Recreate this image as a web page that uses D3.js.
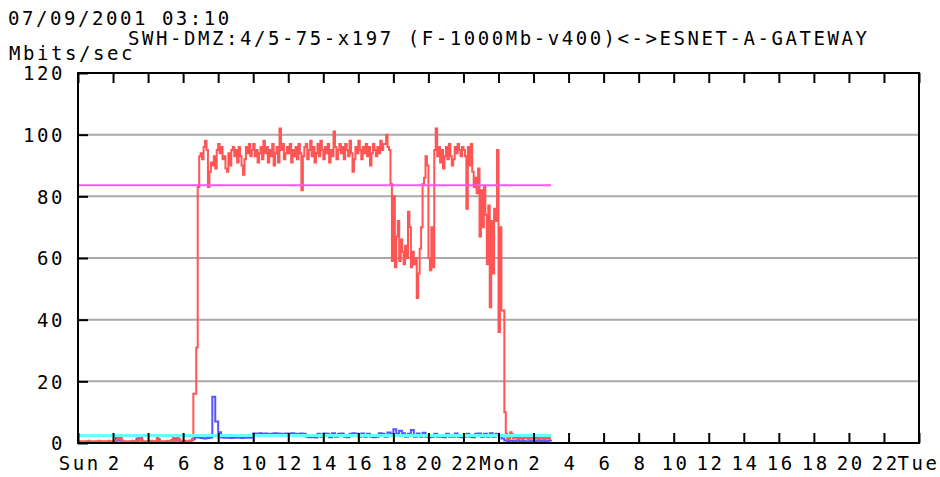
<!DOCTYPE html>
<html>
<head>
<meta charset="utf-8">
<script src="https://cdn.jsdelivr.net/npm/d3@7"></script>
<style>
body { margin: 0; background: #fff; }
svg text { font-family: "DejaVu Sans Mono", monospace; font-size: 19px; letter-spacing: 2.55px; fill: #000; }
</style>
</head>
<body>
<svg id="chart" width="940" height="477"></svg>
<script>
// header text
var stamp = "07/09/2001 03:10";
var linkName = "SWH-DMZ:4/5-75-x197 (F-1000Mb-v400)<->ESNET-A-GATEWAY";
var unitLabel = "Mbits/sec";

// axis stuff
var dayNames = ["Sun", "Mon", "Tue"];
var hourTicks = d3.range(0, 49, 2);
var yTicks = [0, 20, 40, 60, 80, 100, 120];

// outbound traffic (red), 5 min samples from Sun 00:00, one row per hour
var outStep = 5;
var outTraffic = [
	0.6, 0.6, 0.6, 0.5, 0.5, 0.6, 0.6, 0.7, 0.6, 0.5, 0.5, 0.6,
	0.6, 0.6, 0.7, 0.6, 0.6, 0.5, 0.6, 0.6, 0.6, 0.7, 0.6, 0.6,
	0.6, 0.5, 0.6, 2.2, 1.4, 1.6, 0.7, 0.6, 0.6, 0.5, 0.6, 0.6,
	0.6, 0.7, 0.6, 0.5, 0.6, 2.0, 0.8, 1.6, 0.6, 0.6, 0.5, 0.6,
	0.6, 0.6, 0.7, 0.6, 0.6, 0.5, 2.1, 0.6, 0.6, 0.6, 0.5, 0.6,
	0.6, 0.7, 0.6, 0.6, 0.6, 2.0, 0.7, 0.6, 2.3, 1.2, 0.6, 0.6,
	0.6, 0.7, 0.6, 0.6, 0.7, 0.8, 0.9, 16, 16, 31, 83, 93,
	94, 92, 96, 98, 95, 83, 88, 91, 90, 93, 89, 95,
	97, 94, 96, 92, 93, 89, 88, 94, 90, 95, 96, 93,
	95, 91, 96, 93, 90, 87, 92, 96, 94, 97, 93, 95,
	97, 93, 95, 91, 94, 96, 92, 98, 94, 96, 91, 95,
	93, 97, 90, 94, 96, 91, 102, 95, 97, 92, 94, 96,
	94, 97, 91, 95, 93, 96, 92, 97, 94, 82, 93, 96,
	97, 92, 95, 98, 93, 96, 91, 94, 97, 93, 98, 95,
	92, 96, 94, 97, 91, 95, 93, 101, 96, 92, 95, 97,
	94, 96, 92, 97, 95, 93, 98, 94, 88, 92, 96, 94,
	98, 95, 92, 96, 94, 97, 93, 96, 90, 94, 97, 95,
	93, 96, 94, 98, 95, 97, 97, 100, 96, 95, 84, 59,
	80, 57, 67, 72, 59, 66, 62, 58, 64, 60, 75, 70,
	57, 62, 58, 60, 47, 55, 63, 70, 84, 86, 93, 90,
	60, 56, 70, 57, 95, 102, 93, 96, 91, 95, 89, 93,
	96, 92, 97, 93, 90, 92, 96, 94, 97, 95, 93, 96,
	95, 93, 76, 96, 90, 97, 88, 83, 86, 81, 89, 67,
	82, 70, 83, 74, 58, 77, 44, 72, 55, 76, 72, 95,
	36, 70, 43, 43, 10, 3, 1.2, 1.5, 3.5, 2.8, 1.5, 2.5,
	1.8, 1.2, 2.0, 1.5, 1.2, 2.4, 1.6, 2.2, 1.3, 1.8, 1.5, 2.0,
	1.4, 2.2, 1.6, 1.3, 2.0, 1.5, 1.8, 1.2, 2.1, 1.5, 1.7, 1.4
];

// inbound traffic (blue), 10 min samples
var inStep = 10;
var inTraffic = [
	0.3, 0.3, 0.3, 0.3, 0.3, 0.3, 0.3, 0.3, 0.3, 0.3, 0.3, 0.3, 0.3, 1.6, 0.8, 0.3,
	0.3, 0.3, 0.3, 0.3, 1.4, 0.9, 0.3, 0.3, 0.3, 0.3, 0.3, 1.2, 0.3, 0.3, 0.3, 0.3,
	1.0, 1.5, 0.8, 0.4, 0.3, 0.3, 0.3, 1.2, 1.8, 1.8, 1.6, 1.5, 1.6, 1.8, 15, 7,
	3.5, 1.8, 1.7, 1.8, 1.6, 1.7, 1.8, 1.7, 1.6, 1.8, 1.7, 1.8,
	3.1, 3.0, 3.2, 3.0, 3.1, 2.9, 3.0, 3.2, 3.1, 3.0, 2.9, 3.1, 3.0, 3.2, 3.0, 2.9,
	3.1, 3.0, 2.0, 1.9, 2.0, 1.8,
	3.0, 2.0, 3.1, 3.0, 1.9, 3.2, 2.0, 3.0, 3.1, 2.0, 1.9, 3.0, 3.2, 3.0, 2.0, 3.1,
	2.0, 3.0, 2.0, 1.9, 2.0,
	3.2, 3.0, 2.0, 3.4, 3.0, 4.5, 3.0, 4.0, 3.2, 2.0, 3.0, 4.2, 2.0, 3.1, 2.0, 3.3,
	2.0, 1.9, 2.0, 3.0, 2.0, 2.0, 1.9, 3.0, 2.0, 2.0, 3.1, 2.0, 1.9, 2.0, 3.0, 2.0,
	1.9, 3.0, 3.1, 2.0, 3.0, 2.0, 3.2, 2.0, 3.0, 2.5, 1.5, 0.8,
	0.6, 0.7, 0.6, 0.8, 0.6, 0.7, 0.6, 0.6, 0.7, 0.6, 0.8, 0.6, 0.7, 0.6, 0.7, 0.6
];

// flat reference lines (magenta = max avg, cyan = in avg)
var avgLines = [83.6, 2.4];
var avgColours = ["#ff55ff", "#66ffff"];
var dataEndHour = 27;

var svg = d3.select("#chart");
var plotL = 78, plotR = 919, plotT = 73, plotB = 443;

var x = d3.scaleLinear().domain([0, 48]).range([plotL, plotR]);
var y = d3.scaleLinear().domain([0, 120]).range([plotB, plotT]);

function toPoints(vals, step)
{
	var pts = vals.map((v, i) => [i * step / 60, v]);
	pts.push([dataEndHour, vals[vals.length - 1]]);
	return pts;
}

function hourLabel(h)
{
	if (h % 24 === 0) return dayNames[h / 24];
	return String(h % 24);
}

// header
svg.append("text").attr("x", 8).attr("y", 25).text(stamp);
svg.append("text").attr("x", 128).attr("y", 45).text(linkName);
svg.append("text").attr("x", 9).attr("y", 60).text(unitLabel);

// grid
svg.append("g").selectAll("line")
	.data(yTicks.filter(t => t > 0 && t < 120))
	.enter().append("line")
	.attr("x1", plotL).attr("x2", plotR)
	.attr("y1", d => y(d)).attr("y2", d => y(d))
	.attr("stroke", "#aaaaaa").attr("stroke-width", 2);

// series
var line = d3.line().x(d => x(d[0])).y(d => y(d[1])).curve(d3.curveStepAfter);

svg.append("path").datum(toPoints(inTraffic, inStep))
	.attr("d", line).attr("fill", "none")
	.attr("stroke", "#5555ff").attr("stroke-width", 2);

svg.append("path").datum(toPoints(outTraffic, outStep))
	.attr("d", line).attr("fill", "none")
	.attr("stroke", "#ff5555").attr("stroke-width", 2);

avgLines.forEach((v, i) => {
	svg.append("path").datum([[0, v], [dataEndHour, v]])
		.attr("d", line).attr("fill", "none")
		.attr("stroke", avgColours[i]).attr("stroke-width", i === 1 ? 3 : 2);
});

// axes
var xAxis = svg.append("g").attr("transform", "translate(0," + plotB + ")")
	.call(d3.axisBottom(x).tickValues(hourTicks).tickSizeInner(-10).tickSizeOuter(0)
		.tickPadding(14).tickFormat(hourLabel));
xAxis.selectAll("text").attr("dx", 1.3);
// last label would hang off the edge with the trailing letter spacing
xAxis.selectAll("text").filter(d => d === 48).attr("dx", -1);

var topAxis = svg.append("g").attr("transform", "translate(0," + plotT + ")")
	.call(d3.axisTop(x).tickValues(hourTicks).tickSizeInner(-10).tickSizeOuter(0).tickFormat(""));

var yAxis = svg.append("g").attr("transform", "translate(" + plotL + ",0)")
	.call(d3.axisLeft(y).tickValues(yTicks).tickSizeInner(-10).tickSizeOuter(0).tickPadding(13));
yAxis.selectAll("text").attr("dy", "0.36em");

svg.selectAll(".domain").remove();
svg.selectAll(".tick line").attr("stroke", "#000").attr("stroke-width", 2);
svg.selectAll(".tick text").style("font-family", "DejaVu Sans Mono").style("font-size", "19px");

// frame
svg.append("rect").attr("x", plotL).attr("y", plotT)
	.attr("width", plotR - plotL).attr("height", plotB - plotT)
	.attr("fill", "none").attr("stroke", "#000").attr("stroke-width", 2);
</script>
</body>
</html>
